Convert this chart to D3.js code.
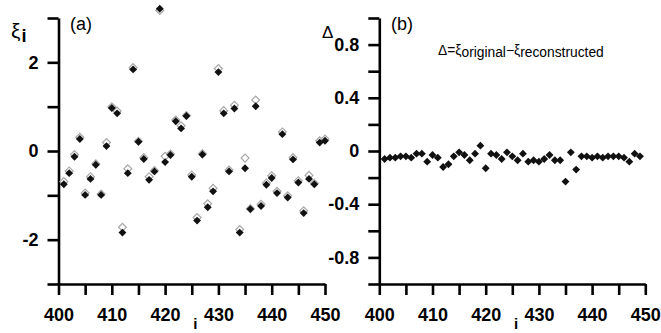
<!DOCTYPE html>
<html><head><meta charset="utf-8">
<script src="https://cdn.jsdelivr.net/npm/d3@7"></script>
<style>
html,body{margin:0;padding:0;background:#fff;}
svg{display:block;font-family:"Liberation Sans",Arial,Helvetica,sans-serif;}
</style></head><body>
<svg id="chart" width="661" height="333"></svg>
<script>
// Sample index i for panel (a)
const indexA = [401,402,403,404,405,406,407,408,409,410,411,412,413,414,415,416,417,418,419,420,
  421,422,423,424,425,426,427,428,429,430,431,432,433,434,435,436,437,438,439,440,
  441,442,443,444,445,446,447,448,449,450];
// ξ original (filled black diamonds)
const xiOriginal = [-0.75,-0.50,-0.13,0.27,-0.99,-0.63,-0.31,-0.99,0.11,0.97,
  0.85,-1.84,-0.50,1.84,0.21,-0.18,-0.65,-0.46,3.21,-0.25,
  -0.09,0.67,0.51,0.79,-0.58,-1.57,-0.08,-1.27,-0.91,1.78,
  0.85,-0.46,0.96,-1.84,-0.39,-1.31,1.01,-1.24,-0.76,-0.61,
  -0.95,0.38,-1.05,-0.19,-0.71,-1.40,-0.63,-0.75,0.19,0.23];
// ξ reconstructed (open grey diamonds)
const xiReconstructed = [-0.69,-0.45,-0.08,0.31,-0.95,-0.58,-0.29,-0.97,0.19,1.00,
  0.90,-1.72,-0.40,1.88,0.22,-0.15,-0.58,-0.44,3.17,-0.12,
  -0.07,0.70,0.57,0.80,-0.54,-1.50,-0.06,-1.19,-0.84,1.86,
  0.91,-0.43,1.03,-1.77,-0.16,-1.30,1.15,-1.20,-0.72,-0.56,
  -0.91,0.43,-1.01,-0.15,-0.67,-1.35,-0.55,-0.73,0.23,0.27];
// Sample index i for panel (b)
const indexB = [401,402,403,404,405,406,407,408,409,410,411,412,413,414,415,416,417,418,419,420,
  421,422,423,424,425,426,427,428,429,430,431,432,433,434,435,436,437,438,439,440,
  441,442,443,444,445,446,447,448,449];
// Δ = ξ original − ξ reconstructed
const delta = [-0.06,-0.05,-0.05,-0.04,-0.04,-0.05,-0.02,-0.02,-0.08,-0.03,
  -0.05,-0.12,-0.10,-0.04,-0.01,-0.03,-0.07,-0.02,0.04,-0.13,
  -0.02,-0.03,-0.06,-0.01,-0.04,-0.07,-0.02,-0.08,-0.07,-0.08,
  -0.06,-0.03,-0.07,-0.07,-0.23,-0.01,-0.14,-0.04,-0.04,-0.05,
  -0.04,-0.05,-0.04,-0.04,-0.04,-0.05,-0.08,-0.02,-0.04];

const xTicks = [400,405,410,415,420,425,430,435,440,445,450];
const xTickLabels = [400,410,420,430,440,450];
const yTicksA = [-3,-2,-1,0,1,2,3];
const yTickLabelsA = [-2,0,2];
const yTicksB = [-1,-0.8,-0.6,-0.4,-0.2,0,0.2,0.4,0.6,0.8,1];
const yTickLabelsB = [-0.8,-0.4,0,0.4,0.8];

const svg = d3.select("#chart");

const xA = d3.scaleLinear().domain([400,450]).range([58.5,325]);
const yA = d3.scaleLinear().domain([-3,3]).range([284,18]);
const xB = d3.scaleLinear().domain([400,450]).range([379.3,645.3]);
const yB = d3.scaleLinear().domain([-1,1]).range([284,18]);

function styleAxis(g) {
  g.attr("font-family", null).attr("font-size", null);
  g.select(".domain").attr("stroke", "#000").attr("stroke-width", 2.6);
  g.selectAll(".tick line").attr("stroke", "#000").attr("stroke-width", 2.6);
  g.selectAll(".tick text").attr("fill", "#000")
    .style("font-size", "18px").style("font-weight", "bold");
}

function drawAxes(x, y, yTicks, yLabels) {
  const xAxis = d3.axisBottom(x).tickValues(xTicks).tickSize(11).tickPadding(13)
    .tickSizeOuter(0).tickFormat(d => xTickLabels.includes(d) ? String(d) : "");
  svg.append("g").attr("transform", `translate(0,${y.range()[0]})`).call(xAxis).call(styleAxis);
  const yAxis = d3.axisLeft(y).tickValues(yTicks).tickSize(11).tickPadding(9)
    .tickSizeOuter(0).tickFormat(d => yLabels.includes(d) ? String(d) : "");
  svg.append("g").attr("transform", `translate(${x.range()[0]},0)`).call(yAxis).call(styleAxis);
  // axis title "i"
  svg.append("text").attr("x", x(425) + 3.7).attr("y", 329)
    .attr("text-anchor", "middle").style("font-size", "15px").style("font-weight", "bold").text("i");
}

drawAxes(xA, yA, yTicksA, yTickLabelsA);
drawAxes(xB, yB, yTicksB, yTickLabelsB);

const diamond = d3.symbol().type(d3.symbolSquare).size(31);

// Panel (a): reconstructed values underneath, originals on top
svg.append("g").selectAll("path").data(indexA).join("path")
  .attr("d", diamond)
  .attr("transform", (d, k) => `translate(${xA(d)},${yA(xiReconstructed[k])}) rotate(45)`)
  .attr("fill", "#fff").attr("stroke", "#a8a8a8").attr("stroke-width", 1.2);
svg.append("g").selectAll("path").data(indexA).join("path")
  .attr("d", diamond)
  .attr("transform", (d, k) => `translate(${xA(d)},${yA(xiOriginal[k])}) rotate(45)`)
  .attr("fill", "#111");

// Panel (b): difference
svg.append("g").selectAll("path").data(indexB).join("path")
  .attr("d", diamond)
  .attr("transform", (d, k) => `translate(${xB(d)},${yB(delta[k])}) rotate(45)`)
  .attr("fill", "#111");

// Panel titles and labels
const yl = svg.append("text").attr("x", 11).attr("y", 38).style("font-size", "21px");
yl.append("tspan").text("ξ");
yl.append("tspan").attr("dy", 4).attr("dx", 1).style("font-weight", "bold").style("font-size", "18px").text("i");

svg.append("text").attr("x", 70).attr("y", 30).style("font-size", "18px").text("(a)");
svg.append("text").attr("x", 391).attr("y", 30).style("font-size", "18px").text("(b)");
svg.append("text").attr("x", 322).attr("y", 38).style("font-size", "17px").text("Δ");

const f = svg.append("text").attr("x", 438).attr("y", 55).style("font-size", "13.8px");
f.append("tspan").text("Δ=ξ");
f.append("tspan").attr("dy", 2).text("original");
f.append("tspan").attr("dy", -2).text("−ξ");
f.append("tspan").attr("dy", 2).text("reconstructed");
</script>
</body></html>
